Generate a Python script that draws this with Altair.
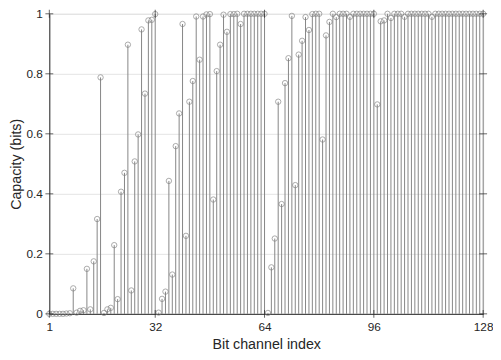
import altair as alt
import pandas as pd

capacity = [
    0.0, 0.0, 0.0, 0.0, 0.0, 0.001, 0.002, 0.085,
    0.004, 0.01, 0.012, 0.15, 0.015, 0.175, 0.316, 0.788,
    0.003, 0.015, 0.02, 0.229, 0.049, 0.407, 0.47, 0.897,
    0.078, 0.508, 0.598, 0.948, 0.734, 0.978, 0.98, 0.999,
    0.004, 0.05, 0.074, 0.443, 0.131, 0.559, 0.668, 0.966,
    0.26, 0.707, 0.776, 0.991, 0.847, 0.991, 0.998, 0.999,
    0.381, 0.809, 0.897, 0.997, 0.94, 0.999, 0.999, 1.0,
    0.966, 1.0, 1.0, 1.0, 1.0, 1.0, 1.0, 1.0,
    0.003, 0.155, 0.251, 0.707, 0.366, 0.769, 0.852, 0.993,
    0.429, 0.864, 0.91, 0.989, 0.946, 0.999, 1.0, 1.0,
    0.581, 0.928, 0.973, 1.0, 0.989, 1.0, 1.0, 1.0,
    0.99, 1.0, 1.0, 1.0, 1.0, 1.0, 1.0, 1.0,
    0.698, 0.975, 0.978, 1.0, 0.986, 1.0, 1.0, 1.0,
    0.99, 1.0, 1.0, 1.0, 1.0, 1.0, 1.0, 1.0,
    0.99, 1.0, 1.0, 1.0, 1.0, 1.0, 1.0, 1.0,
    1.0, 1.0, 1.0, 1.0, 1.0, 1.0, 1.0, 1.0,
]
channels = list(range(1, len(capacity) + 1))
x_ticks = [1, 32, 64, 96, 128]
y_ticks = [0, 0.2, 0.4, 0.6, 0.8, 1.0]

df = pd.DataFrame({"ch": channels, "cap": capacity, "zero": [0.0] * len(channels)})
xt = pd.DataFrame({"t": x_ticks})
yt = pd.DataFrame({"t": y_ticks})

TOP = 3
W, H = 441, 305
AX = "#262626"
STEM = "#858585"
FONT = "Liberation Sans"

xscale = alt.Scale(domain=[1, 128], nice=False, zero=False)
yscale = alt.Scale(domain=[0, 1], nice=False)

base = alt.Chart(df)

stems = base.mark_rule(color=STEM, strokeWidth=1).encode(
    x=alt.X("ch:Q", scale=xscale,
            axis=alt.Axis(values=x_ticks, title="Bit channel index", grid=False,
                          ticks=False, labelPadding=8, titlePadding=5,
                          domainColor=AX, labelColor=AX, titleColor=AX,
                          labelFontSize=12, titleFontSize=14.5, labelFont=FONT,
                          titleFont=FONT, titleFontWeight="normal",
                          labelFlush=False)),
    y=alt.Y("zero:Q", scale=yscale,
            axis=alt.Axis(values=y_ticks, format=".1~f", title="Capacity (bits)",
                          grid=True, gridColor="#e3e3e3", ticks=False,
                          labelPadding=7, titlePadding=3,
                          domainColor=AX, labelColor=AX, titleColor=AX,
                          labelFontSize=12, titleFontSize=14.5, labelFont=FONT,
                          titleFont=FONT, titleFontWeight="normal",
                          labelFlush=False)),
    y2="cap:Q",
)

points = base.mark_point(shape="circle", filled=False, color="#7a7a7a",
                         size=30, strokeWidth=0.9, clip=False).encode(
    x=alt.X("ch:Q", scale=xscale),
    y=alt.Y("cap:Q", scale=yscale),
)

tick_col = AX
xt_bottom = alt.Chart(xt).mark_tick(color=tick_col, size=8, thickness=1).encode(
    x=alt.X("t:Q", scale=xscale), y=alt.value(H))
xt_top = alt.Chart(xt).mark_tick(color=tick_col, size=8, thickness=1).encode(
    x=alt.X("t:Q", scale=xscale), y=alt.value(0))
yt_left = alt.Chart(yt).mark_tick(color=tick_col, size=8, thickness=1).encode(
    y=alt.Y("t:Q", scale=yscale), x=alt.value(0))
yt_right = alt.Chart(yt).mark_tick(color=tick_col, size=8, thickness=1).encode(
    y=alt.Y("t:Q", scale=yscale), x=alt.value(W))

chart = alt.layer(stems, points, xt_bottom, xt_top, yt_left, yt_right).properties(
    width=W, height=H,
    autosize=alt.AutoSizeParams(type="none"),
    padding={"left": 42, "top": TOP, "right": 10, "bottom": 360 - 8 - TOP - H - 1},
).configure_view(stroke=AX, strokeWidth=1).configure(background="white")

chart.save("out.html", embed_options={"renderer": "svg", "actions": False})
